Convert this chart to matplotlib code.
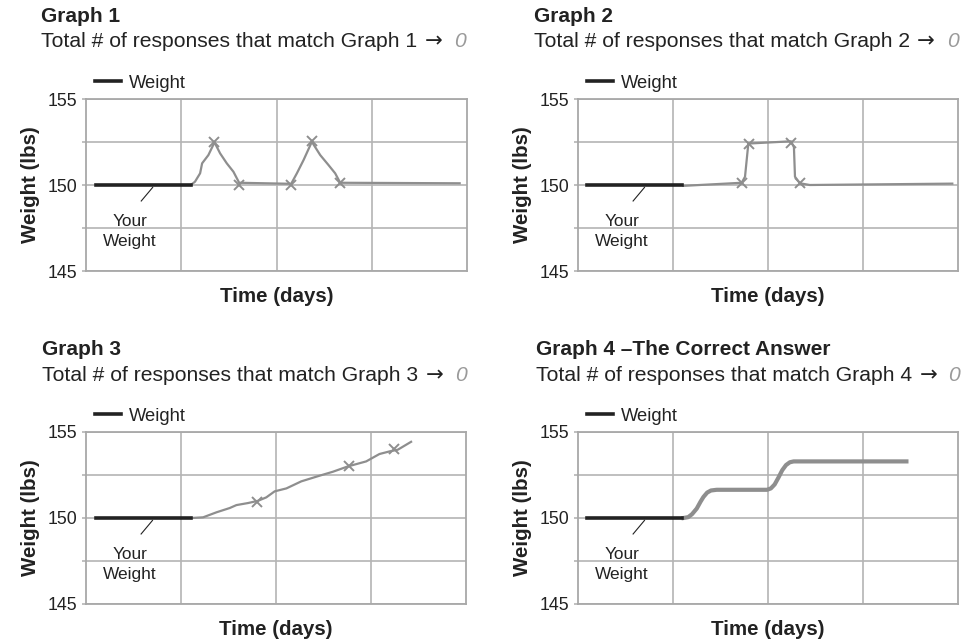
import matplotlib
matplotlib.use('Agg')
import matplotlib.pyplot as plt

plt.rcParams['font.family'] = ['Liberation Sans', 'DejaVu Sans']

# --- dados ---
base_x = [0.10, 1.10]
base_y = [150.0, 150.0]

g1_x = [1.10, 1.144, 1.198, 1.219, 1.285, 1.349, 1.408, 1.478, 1.548, 1.608,
        2.154, 2.214, 2.284, 2.371, 2.459, 2.546, 2.616, 2.669, 3.923]
g1_y = [150.0, 150.19, 150.68, 151.26, 151.74, 152.48, 151.84, 151.26, 150.77, 150.13,
        150.07, 150.68, 151.45, 152.51, 151.74, 151.16, 150.68, 150.13, 150.10]
g1_mx = [1.349, 1.608, 2.154, 2.371, 2.669]
g1_my = [152.48, 150.0, 150.0, 152.55, 150.10]

g2_x = [1.11, 1.723, 1.758, 1.793, 2.242, 2.273, 2.284, 2.336, 2.44, 3.94]
g2_y = [149.95, 150.13, 150.48, 152.41, 152.54, 152.2, 150.48, 150.10, 150.0, 150.08]
g2_mx = [1.723, 1.80, 2.242, 2.336]
g2_my = [150.13, 152.41, 152.45, 150.10]

g3_x = [1.11, 1.233, 1.373, 1.513, 1.583, 1.706, 1.811, 1.898, 1.986, 2.109,
        2.266, 2.459, 2.599, 2.757, 2.949, 3.089, 3.194, 3.282, 3.422]
g3_y = [150.0, 150.04, 150.33, 150.58, 150.75, 150.87, 151.0, 151.2, 151.55, 151.72,
        152.13, 152.46, 152.69, 153.0, 153.29, 153.72, 153.87, 153.97, 154.43]
g3_mx = [1.80, 2.764, 3.247]
g3_my = [150.94, 153.0, 154.0]

g4_x = [1.11, 1.16, 1.20, 1.25, 1.29, 1.32, 1.36, 1.40, 1.46, 1.99,
        2.03, 2.07, 2.11, 2.15, 2.19, 2.23, 2.27, 3.457]
g4_y = [150.0, 150.05, 150.22, 150.55, 150.95, 151.22, 151.48, 151.6, 151.64, 151.64,
        151.72, 151.95, 152.35, 152.78, 153.08, 153.24, 153.29, 153.29]

titulos = ['Graph 1', 'Graph 2', 'Graph 3', 'Graph 4 \u2013The Correct Answer']
respostas = [0, 0, 0, 0]

W, H = 970, 640
fig = plt.figure(figsize=(9.7, 6.4), dpi=100)

# posicoes dos eixos em pixels: (esquerda, topo, direita, base)
caixas = [(86, 99, 467, 271), (578, 99, 958, 271),
          (86, 432, 466, 604), (578, 432, 958, 604)]
# posicoes dos titulos: (x, baseline titulo, baseline subtitulo, x da seta, x do zero)
textos = [(41, 22, 47, 425, 454), (534, 22, 47, 917, 947),
          (42, 355, 381, 426, 455), (536, 355, 381, 920, 948)]

series = [(g1_x, g1_y, g1_mx, g1_my, 1.6),
          (g2_x, g2_y, g2_mx, g2_my, 1.6),
          (g3_x, g3_y, g3_mx, g3_my, 1.6),
          (g4_x, g4_y, None, None, 3.0)]

cinza_grade = '#b4b4b4'
cinza_linha = '#8e8e8e'

for i in range(4):
    l, t, r, b = caixas[i]
    ax = fig.add_axes([l / W, 1 - b / H, (r - l) / W, (b - t) / H])
    ax.set_xlim(0, 4)
    ax.set_ylim(145, 155)
    ax.set_yticks([145, 147.5, 150, 152.5, 155])
    ax.set_yticklabels(['145', '', '150', '', '155'], fontsize=12.8)
    ax.set_xticks([1, 2, 3])
    ax.set_xticklabels([])
    ax.tick_params(axis='x', length=0)
    ax.tick_params(axis='y', length=3, color=cinza_grade, width=1.2, pad=3,
                   labelcolor='#222222')
    ax.grid(True, color=cinza_grade, linewidth=1.2)
    ax.set_axisbelow(True)
    for s in ax.spines.values():
        s.set_color('#a8a8a8')
        s.set_linewidth(1.3)

    sx, sy, mx, my, lw = series[i]
    ax.plot(sx, sy, color=cinza_linha, linewidth=lw, zorder=3)
    if mx is not None:
        ax.plot(mx, my, linestyle='none', marker='x', markersize=7,
                markeredgewidth=1.4, color=cinza_linha, zorder=4)
    linha_base, = ax.plot(base_x, base_y, color='#222222', linewidth=2.6, zorder=5)

    # anotacao "Your Weight"
    ax.plot([0.70, 0.58], [149.86, 149.07], color='#222222', linewidth=0.8, zorder=5)
    ax.text(0.46, 147.3, 'Your\nWeight', ha='center', va='center',
            fontsize=12.4, linespacing=1.4, color='#222222')

    ax.legend([linha_base], ['Weight'], loc='center left', frameon=False,
              bbox_to_anchor=(0.024, 1.093), borderaxespad=0, borderpad=0,
              handlelength=1.4, handletextpad=0.45, fontsize=13.2,
              labelcolor='#222222')

    ax.set_ylabel('Weight (lbs)', fontsize=14.8, fontweight='bold', labelpad=6,
                  color='#222222')
    ax.set_xlabel('Time (days)', fontsize=14.8, fontweight='bold', labelpad=8,
                  color='#222222')

    tx, tb, sb, ax_seta, zx = textos[i]
    fig.text(tx / W, 1 - tb / H, titulos[i], fontsize=15, fontweight='bold',
             va='baseline', color='#222222')
    fig.text(tx / W, 1 - sb / H, 'Total # of responses that match Graph %d' % (i + 1),
             fontsize=15.2, va='baseline', color='#222222')
    fig.text(ax_seta / W, 1 - sb / H, '\u2192', fontsize=15.2, va='baseline',
             color='#222222', family='DejaVu Sans')
    fig.text(zx / W, 1 - sb / H, str(respostas[i]), fontsize=15.2, style='italic',
             va='baseline', color='#9a9a9a')

fig.savefig('out.png', dpi=100)
